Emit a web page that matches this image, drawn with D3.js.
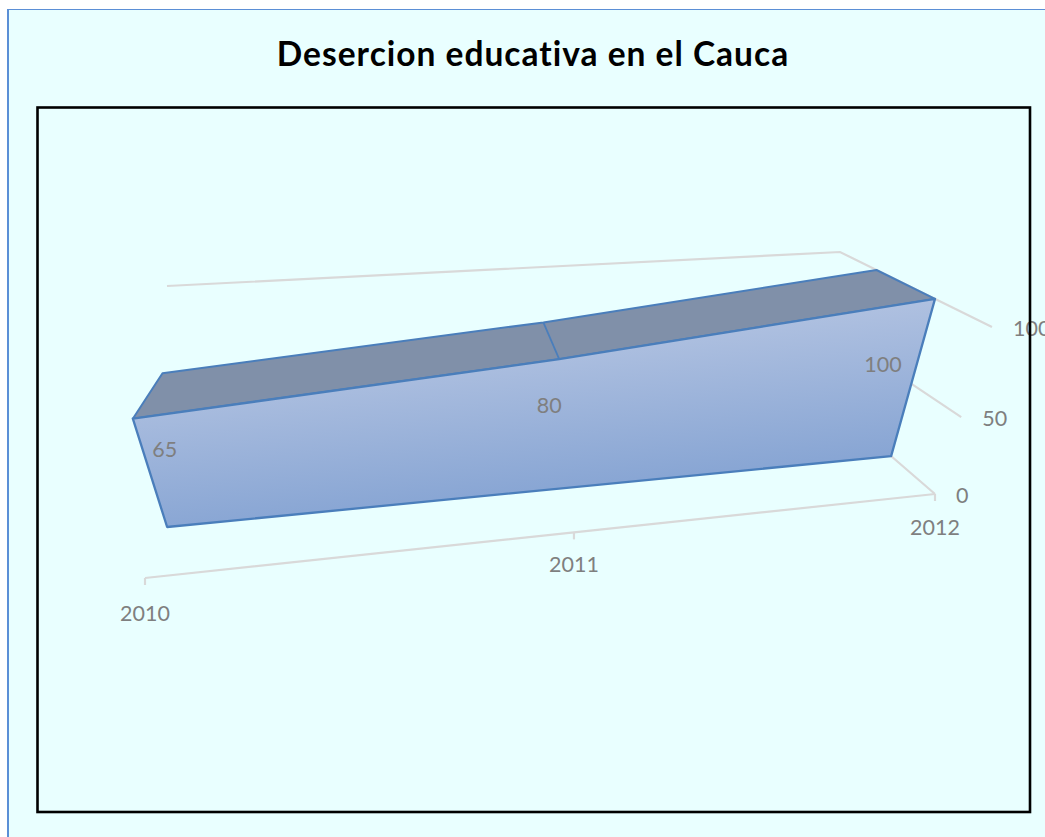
<!DOCTYPE html>
<html>
<head>
<meta charset="utf-8">
<script src="https://cdn.jsdelivr.net/npm/d3@7"></script>
<style>
html,body{margin:0;padding:0;background:#fff;overflow:hidden}
text{font-family:Lato,"Open Sans",sans-serif}
</style>
</head>
<body>
<div id="chart"></div>
<script>
const title = "Desercion educativa en el Cauca";
const categories = ["2010", "2011", "2012"];
const values = [65, 80, 100];
const valueTicks = [0, 50, 100];

const W = 1045, H = 837;
const svg = d3.select("#chart").append("svg").attr("width", W).attr("height", H).style("display","block");

// oblique perspective of the 3D box: category, value and depth scales
const xScale = d3.scalePoint().domain(categories).range([0, 1]);
const perspX = d3.scaleLinear().domain([0, 0.5, 1]).range([0, 0.543, 1]);
const yScale = d3.scaleLinear().domain([0, 50, 100]).range([0, 0.46, 1]);
const depthFront = 0.375, depthBack = 0.76;

const box = {
  floorFront: [[145, 578], [935, 494]],
  floorBack:  [[204, 442], [818, 393]],
  topFront:   [[79, 393],  [992, 327]],
  topBack:    [[167, 286], [840, 252]]
};
const lerp = (a, b, t) => [a[0] + (b[0] - a[0]) * t, a[1] + (b[1] - a[1]) * t];
function project(cat, v, d) {
  const t = perspX(xScale(cat)), u = yScale(v);
  const floor = lerp(lerp(box.floorFront[0], box.floorFront[1], t), lerp(box.floorBack[0], box.floorBack[1], t), d);
  const top = lerp(lerp(box.topFront[0], box.topFront[1], t), lerp(box.topBack[0], box.topBack[1], t), d);
  return lerp(floor, top, u);
}
const line = d3.line();
const first = categories[0], last = categories[categories.length - 1];

// background
svg.append("rect").attr("x", 8).attr("y", 9.5).attr("width", W).attr("height", H)
  .attr("fill", "#E9FFFF").attr("stroke", "none");
svg.append("path").attr("d", `M8,9.5H${W}`).attr("fill", "none").attr("stroke", "#5B8FD6").attr("stroke-width", 1.2);
svg.append("path").attr("d", `M8,${H}V9`).attr("fill", "none").attr("stroke", "#5B8FD6").attr("stroke-width", 2);

svg.append("text").attr("x", 533).attr("y", 66).attr("text-anchor", "middle")
  .attr("font-size", 33.5).attr("font-weight", 700).attr("letter-spacing", 1).attr("fill", "#000").text(title);

// gridlines
const gridCol = "#D9D9D9";
const g = svg.append("g").attr("fill", "none").attr("stroke", gridCol).attr("stroke-width", 2.2);
valueTicks.forEach(v => {
  g.append("path").attr("d", line([project(last, v, 0), project(last, v, 1), project(first, v, 1)]));
});
g.append("path").attr("d", line(categories.map(c => project(c, 0, 0))));
categories.forEach(c => {
  const p = project(c, 0, 0);
  g.append("path").attr("d", line([p, [p[0], p[1] + 7]]));
});

// ribbon
const defs = svg.append("defs");
const gs = project(categories[1], 100, depthFront), ge = project(categories[1], 0, depthFront);
const grad = defs.append("linearGradient").attr("id", "front").attr("gradientUnits", "userSpaceOnUse")
  .attr("x1", ge[0] - 18).attr("y1", gs[1] + 10).attr("x2", ge[0]).attr("y2", ge[1] + 10);
grad.append("stop").attr("offset", 0).attr("stop-color", "#B1C2E1");
grad.append("stop").attr("offset", 1).attr("stop-color", "#86A4D3");

const frontTop = categories.map((c, i) => project(c, values[i], depthFront));
const backTop = categories.map((c, i) => project(c, values[i], depthBack));
const frontBase = categories.map(c => project(c, 0, depthFront));

const ribbonStroke = "#4A7EBB";
svg.append("path").attr("d", line([...backTop, ...frontTop.slice().reverse()]) + "Z")
  .attr("fill", "#8090A9").attr("stroke", ribbonStroke).attr("stroke-width", 2).attr("stroke-linejoin", "round");
svg.append("path").attr("d", line([frontTop[1], backTop[1]]))
  .attr("fill", "none").attr("stroke", ribbonStroke).attr("stroke-width", 1.8);
svg.append("path").attr("d", line([...frontTop, frontBase[2], frontBase[0]]) + "Z")
  .attr("fill", "url(#front)").attr("stroke", ribbonStroke).attr("stroke-width", 2.3).attr("stroke-linejoin", "round");

// text
const labelCol = "#7F7F7F", fs = 21.5;
const nudgeX = d3.scaleLinear().domain([0, 0.5, 1]).range([32, -10, -52]);
const nudgeY = d3.scaleLinear().domain([0, 0.5, 1]).range([31, 46, 66]);
const catLabelY = d3.scaleLinear().domain([0, 0.5, 1]).range([35, 32, 33]);
categories.forEach((c, i) => {
  const p = frontTop[i], t = xScale(c);
  svg.append("text").attr("x", p[0] + nudgeX(t)).attr("y", p[1] + nudgeY(t)).attr("dy", "0.35em")
    .attr("text-anchor", "middle").attr("font-size", fs).attr("fill", labelCol).text(values[i]);
  const a = project(c, 0, 0);
  svg.append("text").attr("x", a[0]).attr("y", a[1] + catLabelY(t)).attr("dy", "0.35em")
    .attr("text-anchor", "middle").attr("font-size", fs).attr("fill", labelCol).text(c);
});
valueTicks.forEach(v => {
  const p = project(last, v, 0);
  svg.append("text").attr("x", p[0] + 21).attr("y", p[1] + 1).attr("dy", "0.35em")
    .attr("font-size", fs).attr("fill", labelCol).text(v);
});

// frame
svg.append("rect").attr("x", 37.5).attr("y", 107.5).attr("width", 992.5).attr("height", 704.5)
  .attr("fill", "none").attr("stroke", "#000").attr("stroke-width", 2.6);
</script>
</body>
</html>
